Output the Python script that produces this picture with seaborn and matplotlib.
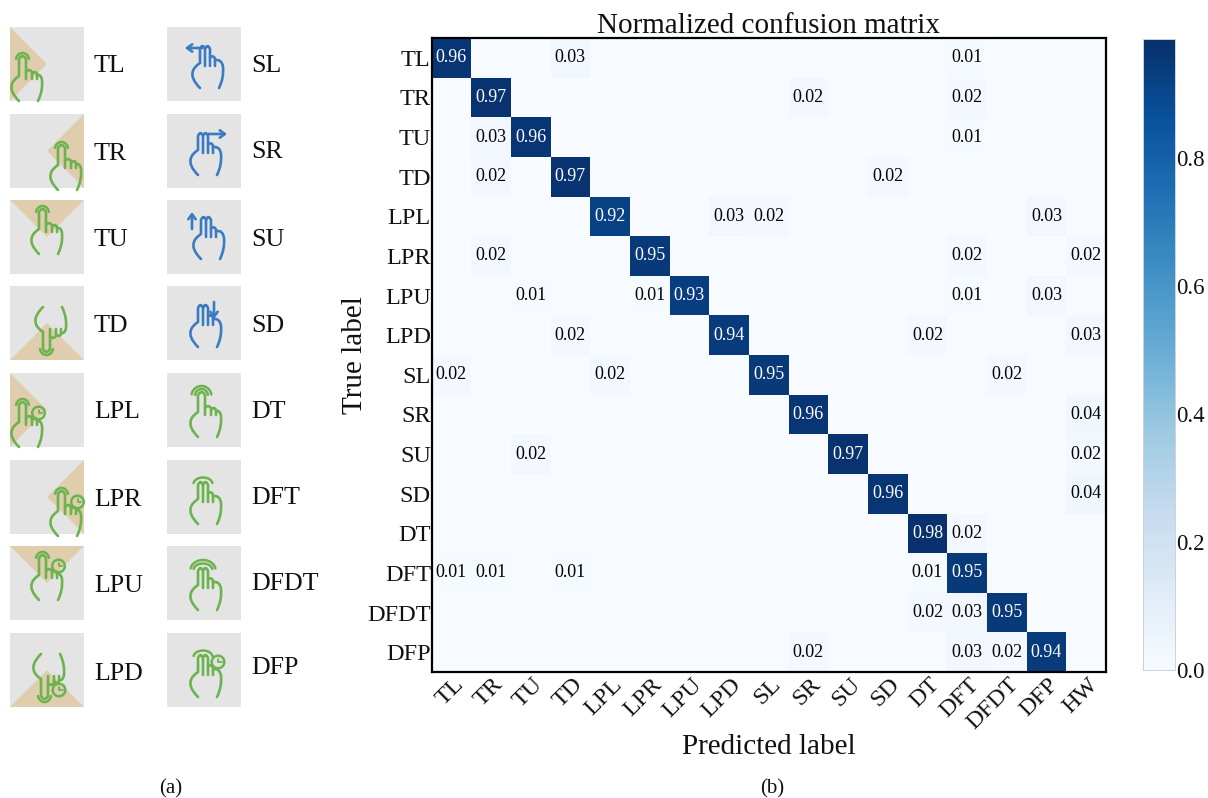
import numpy as np
import pandas as pd
import matplotlib
matplotlib.use("Agg")
import matplotlib.pyplot as plt
from matplotlib.path import Path
from matplotlib.patches import PathPatch, Polygon, Rectangle, Circle
from matplotlib.transforms import ScaledTranslation
import seaborn as sns

# ---------- data ----------
true_labels = ["TL", "TR", "TU", "TD", "LPL", "LPR", "LPU", "LPD",
               "SL", "SR", "SU", "SD", "DT", "DFT", "DFDT", "DFP"]
pred_labels = true_labels + ["HW"]

row_TL = {"TL": .96, "TD": .03, "DFT": .01}
row_TR = {"TR": .97, "SR": .02, "DFT": .02}
row_TU = {"TR": .03, "TU": .96, "DFT": .01}
row_TD = {"TR": .02, "TD": .97, "SD": .02}
row_LPL = {"LPL": .92, "LPD": .03, "SL": .02, "DFP": .03}
row_LPR = {"TR": .02, "LPR": .95, "DFT": .02, "HW": .02}
row_LPU = {"TU": .01, "LPR": .01, "LPU": .93, "DFT": .01, "DFP": .03}
row_LPD = {"TD": .02, "LPD": .94, "DT": .02, "HW": .03}
row_SL = {"TL": .02, "LPL": .02, "SL": .95, "DFDT": .02}
row_SR = {"SR": .96, "HW": .04}
row_SU = {"TU": .02, "SU": .97, "HW": .02}
row_SD = {"SD": .96, "HW": .04}
row_DT = {"DT": .98, "DFT": .02}
row_DFT = {"TL": .01, "TR": .01, "TD": .01, "DT": .01, "DFT": .95}
row_DFDT = {"DT": .02, "DFT": .03, "DFDT": .95}
row_DFP = {"SR": .02, "DFT": .03, "DFDT": .02, "DFP": .94}
rows = [row_TL, row_TR, row_TU, row_TD, row_LPL, row_LPR, row_LPU, row_LPD,
        row_SL, row_SR, row_SU, row_SD, row_DT, row_DFT, row_DFDT, row_DFP]

left_gestures = ["TL", "TR", "TU", "TD", "LPL", "LPR", "LPU", "LPD"]
right_gestures = ["SL", "SR", "SU", "SD", "DT", "DFT", "DFDT", "DFP"]

# ---------- style ----------
W, H = 1208, 798
sns.set_theme(style="white")
plt.rcParams["font.family"] = ["Liberation Serif", "DejaVu Serif"]
GREY, TAN, GREEN, BLUE = "#e4e4e4", "#dfcdad", "#6cb34f", "#3b7bc4"
INK = "#111111"

fig = plt.figure(figsize=(W / 100, H / 100), dpi=100, facecolor="white")

# ---------- left panel (pixel-space overlay) ----------
ov = fig.add_axes([0, 0, 1, 1], zorder=0)
ov.set_xlim(0, W)
ov.set_ylim(H, 0)
ov.axis("off")

TILE = 74
tile_y = [27, 114, 200, 286, 373, 460, 546, 633]
left_text_y = [66.5, 153.5, 240.5, 326.5, 412.5, 499.5, 586.5, 673.5]
right_text_y = [66.5, 152.5, 239.5, 325.5, 411.5, 497.5, 583.5, 668.5]
M, L, Q = Path.MOVETO, Path.LINETO, Path.CURVE3


def stroke(tx, ty, verts, codes, color, lw=1.9):
    v = np.array(verts, float) + [tx, ty]
    ov.add_patch(PathPatch(Path(v, codes), fill=False, ec=color, lw=lw,
                           capstyle="round", joinstyle="round", zorder=3))


def hand(tx, ty, color, fingers=1, dx=0, dy=0, flip=None):
    """Outline of a hand. flip: mirror the y-axis around this tile y."""
    def T(p):
        x, y = p
        y2 = (2 * flip - y) if flip is not None else y + dy
        return (x + dx, y2)

    def P(verts, codes):
        stroke(tx, ty, [T(p) for p in verts], codes, color)

    if fingers == 1:
        top = 20
        P([(31, 62), (21, 52), (24, 45), (25, 41), (31, 37), (31, top),
           (34.5, top - 6), (38, top), (38, 40)],
          [M, Q, Q, Q, Q, L, Q, Q, L])
        P([(38, 33), (41, 29), (44, 33), (44, 40)], [M, Q, Q, L])
        P([(44, 35), (47, 31), (49, 35), (49, 40)], [M, Q, Q, L])
        P([(49, 36), (53, 35), (54, 41), (55, 52), (50, 62)], [M, Q, Q, Q, Q])
    else:
        top = 23
        P([(31, 62), (21, 52), (24, 45), (25, 41), (31, 37), (31, top),
           (33.5, top - 6), (36, top), (36, 40)],
          [M, Q, Q, Q, Q, L, Q, Q, L])
        P([(36, top), (38.5, top - 6), (41, top), (41, 40)], [M, Q, Q, L])
        P([(41, 31), (45, 29), (46, 33), (46, 40)], [M, Q, Q, L])
        P([(46, 34), (53, 33), (54, 41), (55, 52), (50, 62)], [M, Q, Q, Q, Q])
    return T


def arc(tx, ty, T, cx, cy, rx, ry, color):
    a = np.linspace(np.pi * 1.05, np.pi * 1.95, 24)
    v = [T((cx + rx * np.cos(t), cy + ry * np.sin(t))) for t in a]
    stroke(tx, ty, v, [M] + [L] * 23, color, lw=1.8)


def clock(tx, ty, cx, cy, color):
    ov.add_patch(Circle((tx + cx, ty + cy), 6.3, fill=False, ec=color, lw=1.8, zorder=3))
    stroke(tx, ty, [(cx, cy - 3.5), (cx, cy), (cx + 3.5, cy)], [M, L, L], color, lw=1.3)


def arrow(tx, ty, x0, y0, x1, y1, color):
    ov.annotate("", xy=(tx + x1, ty + y1), xytext=(tx + x0, ty + y0),
                arrowprops=dict(arrowstyle="->,head_width=0.22,head_length=0.3",
                                color=color, lw=1.9, shrinkA=0, shrinkB=0), zorder=3)


def base(tx, ty, tri=None):
    ov.add_patch(Rectangle((tx, ty), TILE, TILE, fc=GREY, ec="none", zorder=1))
    if tri:
        ov.add_patch(Polygon([(tx + a, ty + b) for a, b in tri], fc=TAN, ec="none", zorder=2))


TRI = {"L": [(0, 0), (37, 37), (0, 74)], "R": [(74, 0), (37, 37), (74, 74)],
       "U": [(0, 0), (74, 0), (37, 37)], "D": [(0, 74), (74, 74), (37, 37)]}
OFF = {"L": (-22, 12), "R": (17, 14), "U": (-2, -8)}

# touch / long press tiles
LX = 10
for i, g in enumerate(left_gestures):
    ty = tile_y[i]
    d = g[-1]
    base(LX, ty, TRI[d])
    if d == "D":
        T = hand(LX, ty, GREEN, dx=0 if g == "LPD" else 2, flip=41.5)
    else:
        dx, dy = OFF[d]
        T = hand(LX, ty, GREEN, dx=dx, dy=dy)
    arc(LX, ty, T, 34.5, 21, 6.5, 7, GREEN)
    if g.startswith("LP"):
        a, b = T((34.5, 20))
        if d == "D":
            clock(LX, ty, 49, 57, GREEN)
        else:
            clock(LX, ty, a + 16, b + 8, GREEN)
    ov.text(94, left_text_y[i], g, fontsize=18.7, ha="left", va="center", color=INK)

# swipe / double tap tiles
RX = 167
SW_OFF = {"SL": (2, -1), "SR": (0, -1), "SU": (3, -3), "SD": (0, -1)}
for i, g in enumerate(right_gestures):
    ty = tile_y[i]
    base(RX, ty)
    if g in SW_OFF:
        dx, dy = SW_OFF[g]
        hand(RX, ty, BLUE, fingers=2, dx=dx, dy=dy)
    elif g == "DT":
        T = hand(RX, ty, GREEN, dx=0, dy=2)
        arc(RX, ty, T, 34.5, 21, 6.5, 7, GREEN)
        arc(RX, ty, T, 34.5, 21, 10, 10, GREEN)
    else:
        T = hand(RX, ty, GREEN, fingers=2, dx=0, dy=2)
        arc(RX, ty, T, 36, 22, 9.5, 6.5, GREEN)
        if g == "DFDT":
            arc(RX, ty, T, 36, 22, 12.5, 10, GREEN)
        if g == "DFP":
            clock(RX, ty, 51, 29, GREEN)
    ov.text(251, right_text_y[i], g, fontsize=18.7, ha="left", va="center", color=INK)

arrow(RX, tile_y[0], 35, 21, 18, 21, BLUE)
arrow(RX, tile_y[1], 41, 20, 60, 20, BLUE)
arrow(RX, tile_y[2], 25, 29, 25, 12, BLUE)
arrow(RX, tile_y[3], 47, 16, 47, 33, BLUE)

ov.text(171, 788.5, "(a)", fontsize=15, ha="center", va="center", color=INK)
ov.text(772, 788.5, "(b)", fontsize=15, ha="center", va="center", color=INK)

# ---------- confusion matrix ----------
df = pd.DataFrame([[r.get(p, 0.0) for p in pred_labels] for r in rows],
                  index=true_labels, columns=pred_labels)
annot = df.map(lambda v: f"{v:.2f}" if v > 0 else "")

x0, x1, y0, y1 = 431.5, 1106, 38, 672
ax = fig.add_axes([x0 / W, 1 - y1 / H, (x1 - x0) / W, (y1 - y0) / H], zorder=2)
cax = fig.add_axes([1143 / W, 1 - 670 / H, 32 / W, 631 / H], zorder=2)

sns.heatmap(df, ax=ax, cbar_ax=cax, cmap="Blues", vmin=0, vmax=0.985,
            annot=annot, fmt="", annot_kws={"fontsize": 13},
            xticklabels=pred_labels, yticklabels=true_labels)
for t in ax.texts:
    t.set_color("white" if float(t.get_text() or 0) > 0.5 else "black")

ax.set_title("Normalized confusion matrix", fontsize=21, pad=3.5, color=INK)
ax.set_xlabel("Predicted label", fontsize=21, color=INK, va="center")
ax.set_ylabel("True label", fontsize=21, color=INK, va="center")
ax.xaxis.set_label_coords(0.5, -(747 - y1) / (y1 - y0))
ax.yaxis.set_label_coords(-(x0 - 355) / (x1 - x0), 0.5)
ax.tick_params(axis="both", length=0, labelsize=17.5, labelcolor=INK)
ax.tick_params(axis="x", pad=1.5)
ax.tick_params(axis="y", pad=0.5)
plt.setp(ax.get_xticklabels(), rotation=45, ha="right", rotation_mode="anchor")
plt.setp(ax.get_yticklabels(), rotation=0, va="center")
shift_x = ScaledTranslation(1.5 / 100, 0, fig.dpi_scale_trans)
shift_y = ScaledTranslation(0, -2.5 / 100, fig.dpi_scale_trans)
for lab in ax.get_xticklabels():
    lab.set_transform(lab.get_transform() + shift_x)
for lab in ax.get_yticklabels():
    lab.set_transform(lab.get_transform() + shift_y)
for s in ax.spines.values():
    s.set_visible(True)
    s.set_linewidth(1.6)
    s.set_edgecolor("black")

cax.set_yticks([0, .2, .4, .6, .8])
cax.set_yticklabels(["0.0", "0.2", "0.4", "0.6", "0.8"])
cax.tick_params(length=0, labelsize=16.5, pad=1, labelcolor=INK)
for s in cax.spines.values():
    s.set_visible(True)
    s.set_linewidth(0.6)
    s.set_edgecolor("#c9d3dc")

fig.savefig("out.png", dpi=100, facecolor="white")
